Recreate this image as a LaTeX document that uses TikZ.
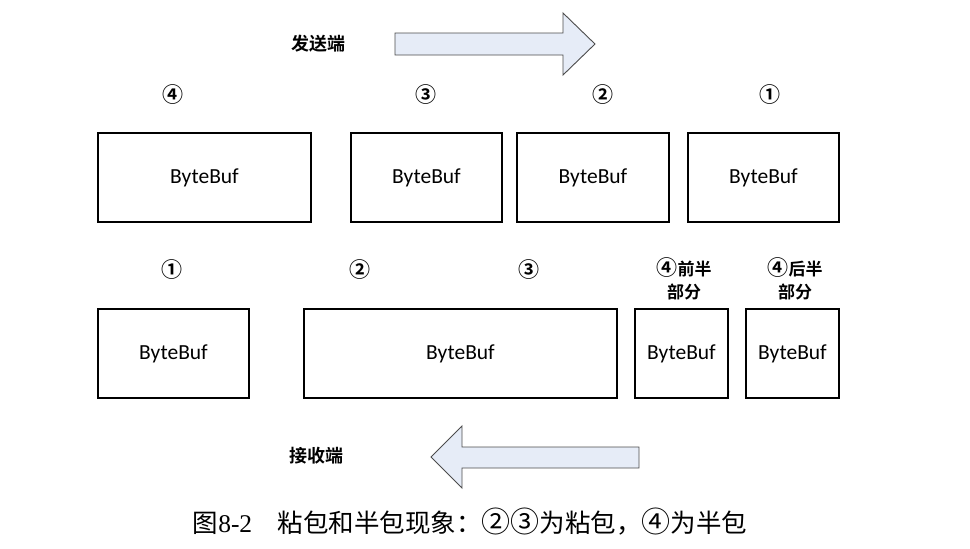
\documentclass[tikz,border=0pt]{standalone}
\usepackage{fontspec}
\setmainfont{Carlito}
\newfontfamily\cjkb{Noto Sans CJK SC Bold}
\newfontfamily\cjk{Noto Sans CJK SC}
\newfontfamily\serifnum{Liberation Serif}
\definecolor{arrowfill}{RGB}{230,236,247}
\newcommand{\cnum}[1]{{\cjkb\fontsize{21}{23}\selectfont #1}}
\newcommand{\capnum}[1]{{\cjk\fontsize{29}{30}\selectfont #1}}
\begin{document}
\begin{tikzpicture}[x=1pt,y=-1pt,
  buf/.style={draw=black,line width=1.4pt,inner sep=0pt,font=\fontsize{21.5}{24}\selectfont},
  lbl/.style={font=\cjkb\fontsize{17}{23}\selectfont,align=center,inner sep=0pt},
  side/.style={font=\cjkb\fontsize{18}{22}\selectfont,inner sep=0pt},
  bigarrow/.style={draw=black!70,fill=arrowfill,line width=0.9pt,line join=miter}]
\useasboundingbox (0,0) rectangle (970,549);
% top row
\node[buf,minimum width=213pt,minimum height=89pt] (t4) at (204.5,177.5) {ByteBuf};
\node[buf,minimum width=151pt,minimum height=89pt] (t3) at (426.5,177.5) {ByteBuf};
\node[buf,minimum width=152pt,minimum height=89pt] (t2) at (593,177.5) {ByteBuf};
\node[buf,minimum width=151pt,minimum height=89pt] (t1) at (763.5,177.5) {ByteBuf};
\node[lbl] (l4) at (173,95) {\cnum{④}};
\node[lbl] (l3) at (426,95) {\cnum{③}};
\node[lbl] (l2) at (603,95) {\cnum{②}};
\node[lbl] (l1) at (770,95) {\cnum{①}};
% bottom row
\node[buf,minimum width=151pt,minimum height=89pt] (b1) at (173.5,353.5) {ByteBuf};
\node[buf,minimum width=313pt,minimum height=89pt] (b23) at (460.5,353.5) {ByteBuf};
\node[buf,minimum width=93pt,minimum height=89pt] (b4a) at (681.5,353.5) {ByteBuf};
\node[buf,minimum width=93pt,minimum height=89pt] (b4b) at (792.5,353.5) {ByteBuf};
\node[lbl] (m1) at (172,270) {\cnum{①}};
\node[lbl] (m2) at (360,270) {\cnum{②}};
\node[lbl] (m3) at (529,270) {\cnum{③}};
\node[lbl] (m4a) at (684,279) {\cnum{④}前半\\部分};
\node[lbl] (m4b) at (795,279) {\cnum{④}后半\\部分};
% side labels
\node[side] (send) at (318,44) {发送端};
\node[side] (recv) at (316,456) {接收端};
% arrows
\draw[bigarrow] (395,33) -- (563,33) -- (563,13) -- (595,44) -- (563,75) -- (563,55) -- (395,55) -- cycle;
\draw[bigarrow] (639,447) -- (462,447) -- (462,426) -- (431,457) -- (462,488) -- (462,468) -- (639,468) -- cycle;
% caption
\node[font=\cjk\fontsize{25.5}{30}\selectfont,inner sep=0pt] (cap) at (470,522)
  {图{\serifnum 8-2}\hspace{1em}粘包和半包现象：\capnum{②③}为粘包，\capnum{④}为半包};
\end{tikzpicture}
\end{document}
